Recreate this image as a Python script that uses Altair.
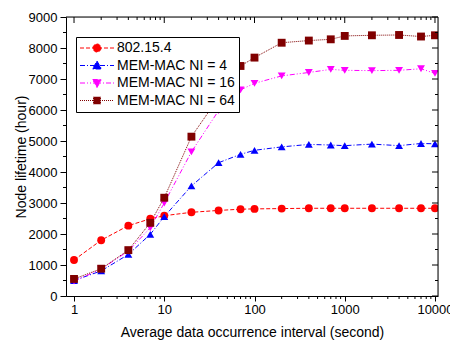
import altair as alt
import pandas as pd

xs = [1, 2, 4, 7, 10, 20, 40, 70, 100, 200, 400, 700, 1000, 2000, 4000, 7000, 10000]
s802 = [1160, 1800, 2270, 2490, 2590, 2700, 2760, 2800, 2810, 2820, 2830, 2830, 2830, 2830, 2830, 2830, 2830]
ni4 = [500, 810, 1340, 1990, 2560, 3550, 4300, 4570, 4700, 4810, 4890, 4870, 4850, 4900, 4850, 4920, 4910]
ni16 = [480, 870, 1450, 2200, 3000, 4650, 5980, 6650, 6860, 7100, 7210, 7310, 7280, 7270, 7280, 7330, 7180]
ni64 = [550, 880, 1480, 2360, 3170, 5140, 6400, 7420, 7690, 8170, 8240, 8280, 8390, 8410, 8420, 8370, 8410]

names = ["802.15.4", "MEM-MAC NI = 4", "MEM-MAC NI = 16", "MEM-MAC NI = 64"]
colors = ["#FF0000", "#0000FF", "#FF00FF", "#800000"]
dashes = [[4, 2], [5, 2, 1, 2], [5, 2, 1, 2, 1, 2], [1, 1]]
shapes = ["circle", "triangle-up", "triangle-down", "square"]
legend_paths = [
    "M-3.4,0H3.4M0.8,0A0.8,0.8,0,1,1,-0.8,0A0.8,0.8,0,1,1,0.8,0Z",
    "M-3.4,0H3.4M0,-0.9L0.9,0.7L-0.9,0.7Z",
    "M-3.4,0H3.4M0,0.9L0.9,-0.7L-0.9,-0.7Z",
    "M-3.4,0H3.4M-0.7,-0.7H0.7V0.7H-0.7Z",
]

major_x = [1, 10, 100, 1000, 10000]
minor_x = [m * d for d in [1, 10, 100, 1000] for m in range(2, 10)]
major_y = list(range(0, 9001, 1000))
minor_y = list(range(500, 9000, 1000))

rows = []
for name, vals in zip(names, [s802, ni4, ni16, ni64]):
    for x, v in zip(xs, vals):
        rows.append({"x": x, "y": v, "series": name})
df = pd.DataFrame(rows)

W, H = 372, 279
xscale = alt.Scale(type="log", domain=[0.815, 10800], nice=False)
yscale = alt.Scale(domain=[0, 9000], nice=False, zero=False)
cscale = alt.Scale(domain=names, range=colors)
base = alt.Chart(df)

FONT = "Liberation Sans"

AX_X = alt.Axis(
    orient="bottom", values=major_x, format="d", tickSize=5, labelFontSize=13, labelPadding=2,
    domain=True, domainColor="black", grid=False, title="Average data occurrence interval (second)",
    titleFontSize=14, titleFontWeight="normal", titlePadding=9, labelFlush=False,
    tickColor="black", labelColor="black", titleColor="black")
AX_Y = alt.Axis(
    orient="left", values=major_y, format="d", tickSize=6, labelFontSize=13, labelPadding=3,
    domain=True, domainColor="black", grid=False, title="Node lifetime (hour)",
    titleFontSize=14, titleFontWeight="normal", titlePadding=0,
    tickColor="black", labelColor="black", titleColor="black")

lines = base.mark_line(strokeWidth=1, clip=True).encode(
    x=alt.X("x:Q", scale=xscale, axis=AX_X),
    y=alt.Y("y:Q", scale=yscale, axis=AX_Y),
    color=alt.Color("series:N", scale=cscale, legend=None),
    strokeDash=alt.StrokeDash("series:N", scale=alt.Scale(domain=names, range=dashes), legend=None),
    order=alt.Order("x:Q"),
)

points = base.mark_point(filled=True, opacity=1, size=62, clip=True).encode(
    x=alt.X("x:Q", scale=xscale, axis=AX_X),
    y=alt.Y("y:Q", scale=yscale, axis=AX_Y),
    color=alt.Color("series:N", scale=cscale, legend=None),
    shape=alt.Shape("series:N", scale=alt.Scale(domain=names, range=shapes), legend=None),
)

leg = alt.Legend(
    title=None, orient="none", legendX=10, legendY=20, padding=4,
    strokeColor="black", fillColor="white", symbolSize=100, symbolOffset=10,
    labelOffset=13, labelFontSize=14, labelColor="black", rowPadding=3.5,
    symbolStrokeWidth=1, symbolOpacity=1, labelFont=FONT,
)

legend_layer = base.mark_point(filled=True, size=100, opacity=0).encode(
    x=alt.X("x:Q", scale=xscale, axis=AX_X),
    y=alt.Y("y:Q", scale=yscale, axis=AX_Y),
    fill=alt.Fill("series:N", scale=alt.Scale(domain=names, range=colors), legend=leg),
    stroke=alt.Stroke("series:N", scale=alt.Scale(domain=names, range=colors), legend=leg),
    shape=alt.Shape("series:N", scale=alt.Scale(domain=names, range=legend_paths), legend=leg),
    strokeDash=alt.StrokeDash("series:N", scale=alt.Scale(domain=names, range=dashes), legend=leg),
)


def xticks(values, y0, y1):
    d = pd.DataFrame({"x": values})
    return alt.Chart(d).mark_rule(color="black", strokeWidth=1).encode(
        x=alt.X("x:Q", scale=xscale, axis=AX_X), y=alt.value(y0), y2=alt.value(y1))


def yticks(values, x0, x1):
    d = pd.DataFrame({"y": values})
    return alt.Chart(d).mark_rule(color="black", strokeWidth=1).encode(
        y=alt.Y("y:Q", scale=yscale, axis=AX_Y), x=alt.value(x0), x2=alt.value(x1))


tick_layers = [
    xticks(minor_x, H, H + 3),      # bottom minor, outward
    xticks(major_x, 0, 6),          # top major, inward
    xticks(minor_x, 0, 3),          # top minor, inward
    yticks(minor_y, -3, 0),         # left minor, outward
    yticks(major_y, W - 6, W),      # right major, inward
    yticks(minor_y, W - 3, W),      # right minor, inward
]

frame_top = alt.Chart(pd.DataFrame({"y": [9000]})).mark_rule(color="black", strokeWidth=1).encode(
    y=alt.Y("y:Q", scale=yscale, axis=AX_Y), x=alt.value(0), x2=alt.value(W))
frame_right = alt.Chart(pd.DataFrame({"x": [10800]})).mark_rule(color="black", strokeWidth=1).encode(
    x=alt.X("x:Q", scale=xscale, axis=AX_X), y=alt.value(0), y2=alt.value(H))

chart = alt.layer(lines, points, legend_layer, *tick_layers, frame_top, frame_right).resolve_scale(
    shape="independent", strokeDash="independent", fill="independent", stroke="independent"
).properties(
    width=W, height=H,
    autosize=alt.AutoSizeParams(type="none"),
    padding={"left": 66, "top": 17, "right": 12, "bottom": 47},
    background="white",
).configure_view(
    stroke="black", strokeWidth=1
).configure(font=FONT)

chart.save("out.html", embed_options={"renderer": "svg", "actions": False})
